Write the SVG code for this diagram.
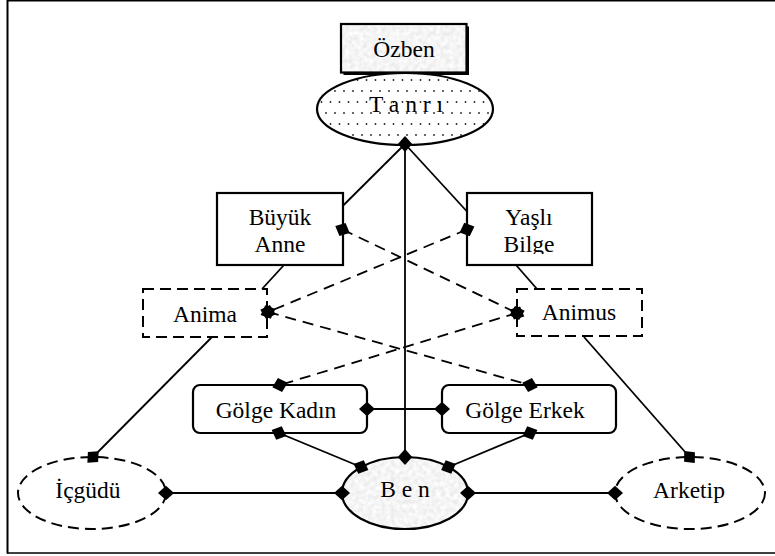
<svg xmlns="http://www.w3.org/2000/svg" width="775" height="556" viewBox="0 0 775 556">
<style>
text{font-family:"Liberation Serif","Times New Roman",serif;font-size:23.5px;fill:#000;text-anchor:middle}
.box{fill:#fff;stroke:#000;stroke-width:2.2}
.dbox{fill:#fff;stroke:#000;stroke-width:2;stroke-dasharray:11,6}
.ln{fill:none;stroke:#000;stroke-width:1.8}
.dl{fill:none;stroke:#000;stroke-width:1.8;stroke-dasharray:11,7}
.dm{marker-start:url(#dia);marker-end:url(#dia)}
.de{marker-end:url(#dia)}
</style>
<defs>
<marker id="dia" viewBox="-11 -11 22 22" markerWidth="22" markerHeight="22" refX="0" refY="0" orient="auto" markerUnits="userSpaceOnUse" overflow="visible">
<path d="M-8,0 L0,-7.2 L8,0 L0,7.2 Z" fill="#000" stroke="none"/>
</marker>
<pattern id="dots" width="9" height="22" patternUnits="userSpaceOnUse">
<circle cx="2" cy="3" r="0.9" fill="#222"/>
<circle cx="6.5" cy="14" r="0.9" fill="#222"/>
</pattern>
<filter id="granite" x="0" y="0" width="100%" height="100%">
<feTurbulence type="fractalNoise" baseFrequency="0.22" numOctaves="2" seed="4" result="n"/>
<feColorMatrix in="n" type="matrix" values="0.3 0 0 0 0.76  0.3 0 0 0 0.76  0.3 0 0 0 0.76  0 0 0 0 1" result="g"/>
<feComposite in="g" in2="SourceGraphic" operator="in"/>
</filter>
<clipPath id="clipYB"><rect x="467" y="193" width="125" height="61"/></clipPath>
</defs>

<g id="frame">
<line x1="7" y1="0.7" x2="775" y2="0.7" stroke="#000" stroke-width="1.4"/>
<line x1="7.5" y1="0" x2="7.5" y2="553.5" stroke="#000" stroke-width="2"/>
<line x1="7" y1="553" x2="775" y2="553" stroke="#000" stroke-width="1.5"/>
</g>

<g id="ozben">
<rect x="343.5" y="26.5" width="125.5" height="48.5" fill="#000"/>
<rect x="341" y="24" width="125.5" height="48.5" fill="#ddd" filter="url(#granite)"/>
<rect x="341" y="24" width="125.5" height="48.5" fill="none" stroke="#000" stroke-width="2.2"/>
<text x="404" y="57">Özben</text>
</g>

<g id="tanri">
<ellipse cx="405" cy="109" rx="88" ry="36" fill="#fff"/>
<ellipse cx="405" cy="109" rx="88" ry="36" fill="url(#dots)" stroke="#000" stroke-width="2.2"/>
<text x="406" y="112">T a n r ı</text>
</g>

<g id="buyuk-anne">
<rect class="box" x="217" y="193" width="126" height="72"/>
<text x="280" y="225">Büyük</text>
<text x="280" y="252">Anne</text>
</g>

<g id="yasli-bilge">
<rect class="box" x="467" y="193" width="125" height="72"/>
<g clip-path="url(#clipYB)">
<text x="529" y="225">Yaşlı</text>
<text x="529" y="252">Bilge</text>
</g>
</g>

<g id="anima">
<rect class="dbox" x="143" y="289" width="124" height="48"/>
<text x="205" y="321.5">Anima</text>
</g>

<g id="animus">
<rect class="dbox" x="517" y="289" width="125" height="47"/>
<text x="579" y="320">Animus</text>
</g>

<g id="golge-kadin">
<rect class="box" x="193" y="385" width="174" height="48" rx="7"/>
<text x="276" y="418">Gölge Kadın</text>
</g>

<g id="golge-erkek">
<rect class="box" x="442" y="385" width="174" height="48" rx="7"/>
<text x="525" y="417.5">Gölge Erkek</text>
</g>

<g id="ben">
<ellipse cx="405" cy="493" rx="63" ry="36" fill="#ddd" filter="url(#granite)"/>
<ellipse cx="405" cy="493" rx="63" ry="36" fill="none" stroke="#000" stroke-width="2.2"/>
<text x="405" y="497">B e n</text>
</g>

<g id="icgudu">
<ellipse class="dbox" cx="92" cy="493" rx="74" ry="36"/>
<text x="88" y="498">İçgüdü</text>
</g>

<g id="arketip">
<ellipse class="dbox" cx="690" cy="493" rx="75" ry="36"/>
<text x="689" y="498">Arketip</text>
</g>

<g id="connectors">
<line class="ln" x1="284" y1="265" x2="262" y2="289"/>
<line class="ln" x1="516" y1="265" x2="537" y2="289"/>
<line class="ln" x1="405" y1="144" x2="342.7" y2="206"/>
<line class="ln" x1="405" y1="144" x2="467" y2="211.5"/>
<line class="ln dm" x1="405" y1="144" x2="405" y2="457"/>
<line class="dl dm" x1="342.5" y1="229.5" x2="517" y2="313"/>
<line class="dl dm" x1="467" y1="229.5" x2="268" y2="312"/>
<line class="dl dm" x1="268" y1="312" x2="530" y2="385"/>
<line class="dl dm" x1="517" y1="313" x2="280" y2="385"/>
<line class="ln de" x1="212" y1="337" x2="93" y2="457"/>
<line class="ln de" x1="584" y1="337" x2="689.5" y2="457"/>
<line class="ln dm" x1="367" y1="409" x2="442" y2="409"/>
<line class="ln dm" x1="279" y1="433" x2="361" y2="467"/>
<line class="ln dm" x1="530" y1="433" x2="448.5" y2="467"/>
<line class="ln dm" x1="166" y1="493" x2="342" y2="493"/>
<line class="ln dm" x1="468" y1="493" x2="615" y2="493"/>
</g>
</svg>
